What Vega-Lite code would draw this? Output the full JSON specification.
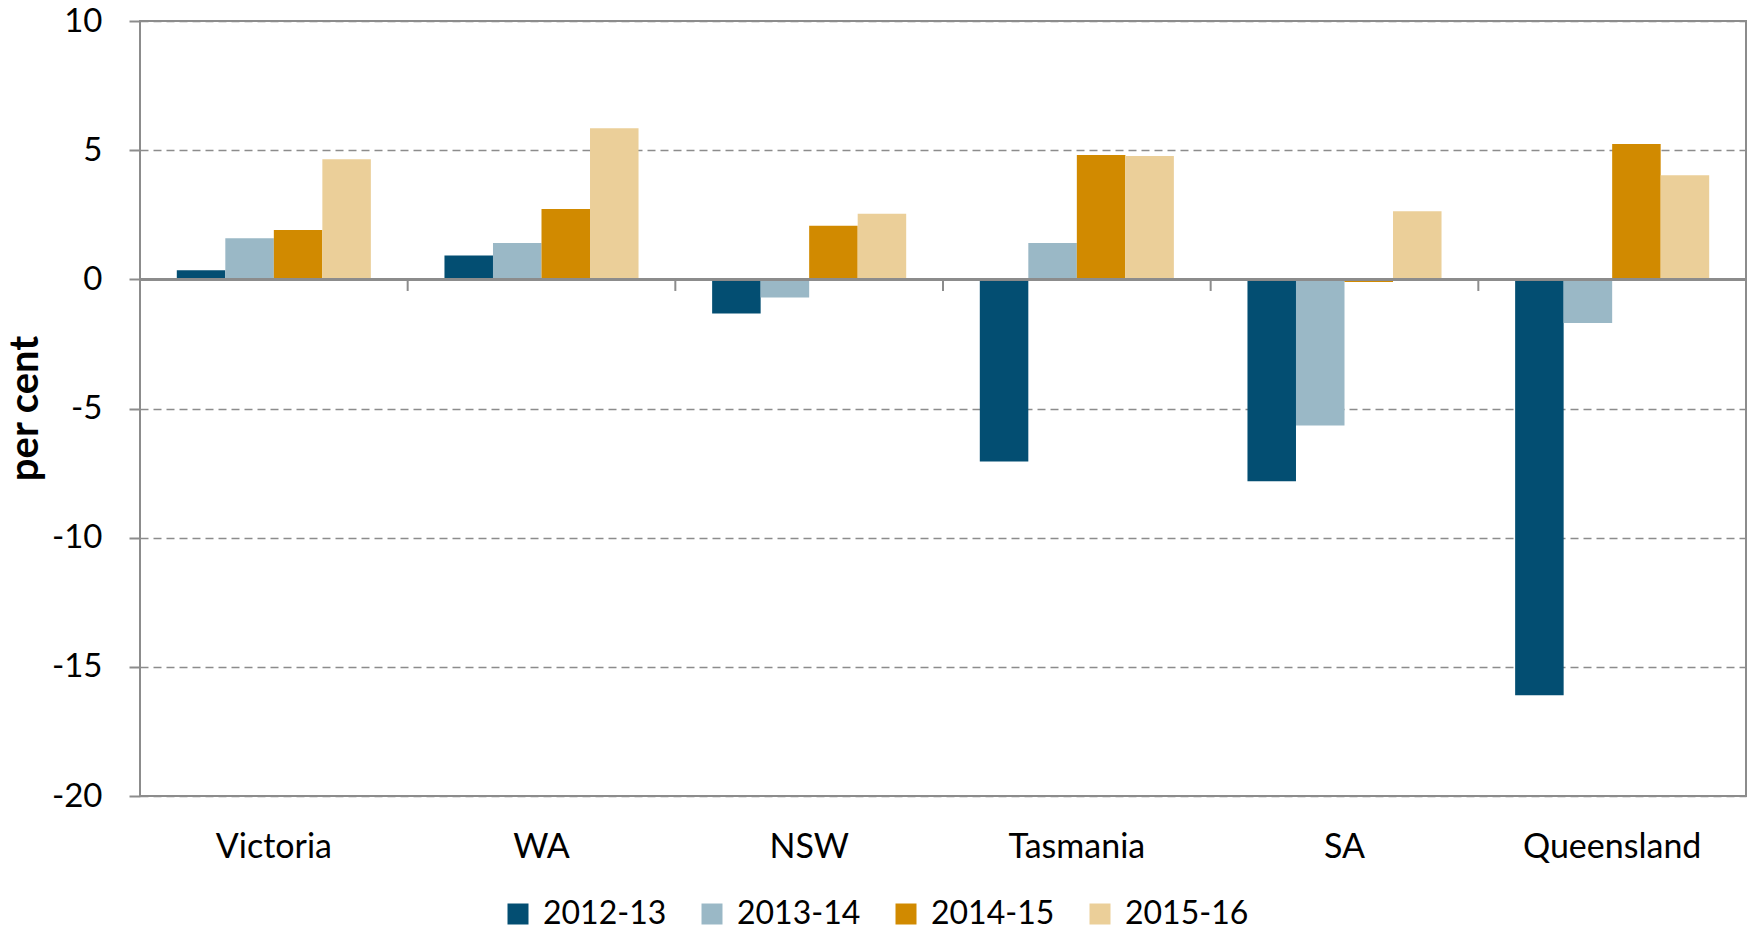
{
  "$schema": "https://vega.github.io/schema/vega-lite/v6.json",
  "width": 1606,
  "height": 775,
  "autosize": {"type": "none"},
  "padding": {"left": 140, "top": 21, "right": 6, "bottom": 135},
  "background": "white",
  "config": {
    "font": "Lato",
    "view": {"stroke": "#8c8c8c", "strokeWidth": 2},
    "axis": {"labelColor": "#000000", "labelFont": "Lato", "titleFont": "Lato"}
  },
  "data": {
    "values": [
      {"state": "Victoria", "year": "2012-13", "value": 0.35},
      {"state": "Victoria", "year": "2013-14", "value": 1.59},
      {"state": "Victoria", "year": "2014-15", "value": 1.91},
      {"state": "Victoria", "year": "2015-16", "value": 4.65},
      {"state": "WA", "year": "2012-13", "value": 0.92},
      {"state": "WA", "year": "2013-14", "value": 1.41},
      {"state": "WA", "year": "2014-15", "value": 2.72},
      {"state": "WA", "year": "2015-16", "value": 5.85},
      {"state": "NSW", "year": "2012-13", "value": -1.32},
      {"state": "NSW", "year": "2013-14", "value": -0.7},
      {"state": "NSW", "year": "2014-15", "value": 2.07},
      {"state": "NSW", "year": "2015-16", "value": 2.54},
      {"state": "Tasmania", "year": "2012-13", "value": -7.05},
      {"state": "Tasmania", "year": "2013-14", "value": 1.41},
      {"state": "Tasmania", "year": "2014-15", "value": 4.81},
      {"state": "Tasmania", "year": "2015-16", "value": 4.77},
      {"state": "SA", "year": "2012-13", "value": -7.82},
      {"state": "SA", "year": "2013-14", "value": -5.66},
      {"state": "SA", "year": "2014-15", "value": -0.1},
      {"state": "SA", "year": "2015-16", "value": 2.64},
      {"state": "Queensland", "year": "2012-13", "value": -16.1},
      {"state": "Queensland", "year": "2013-14", "value": -1.69},
      {"state": "Queensland", "year": "2014-15", "value": 5.24},
      {"state": "Queensland", "year": "2015-16", "value": 4.03}
    ]
  },
  "layer": [
    {
      "mark": {"type": "bar"},
      "encoding": {
        "x": {
          "field": "state",
          "type": "nominal",
          "sort": ["Victoria", "WA", "NSW", "Tasmania", "SA", "Queensland"],
          "scale": {"paddingInner": 0, "paddingOuter": 0},
          "axis": {
            "title": null,
            "domain": false,
            "ticks": false,
            "labelAngle": 0,
            "labelFontSize": 34,
            "labelPadding": 34
          }
        },
        "xOffset": {
          "field": "year",
          "type": "nominal",
          "scale": {"paddingInner": 0, "paddingOuter": 0.7586}
        },
        "y": {
          "field": "value",
          "type": "quantitative",
          "scale": {"domain": [-20, 10], "nice": false, "zero": false},
          "axis": {
            "title": "per cent",
            "titleFontSize": 40,
            "titleFontWeight": "bold",
            "titleColor": "#000000",
            "titleAngle": 270,
            "titleX": -115,
            "titleY": 387,
            "titleAlign": "center",
            "titleBaseline": "middle",
            "values": [-20, -15, -10, -5, 0, 5, 10],
            "labelExpr": "'' + datum.value",
            "labelFontSize": 33,
            "labelPadding": 27,
            "tickSize": 11,
            "tickColor": "#8c8c8c",
            "tickWidth": 2,
            "domain": false,
            "grid": true,
            "gridColor": "#8c8c8c",
            "gridWidth": 1.5,
            "gridDash": [8, 5]
          }
        },
        "color": {
          "field": "year",
          "type": "nominal",
          "scale": {
            "domain": ["2012-13", "2013-14", "2014-15", "2015-16"],
            "range": ["#034E72", "#9AB8C6", "#D18A00", "#EBCF99"]
          },
          "legend": {
            "title": null,
            "orient": "none",
            "legendX": 362,
            "legendY": 877,
            "direction": "horizontal",
            "symbolType": "square",
            "symbolSize": 441,
            "symbolStrokeWidth": 0,
            "labelFontSize": 32,
            "labelColor": "#000000",
            "labelOffset": 9,
            "columnPadding": 29
          }
        }
      }
    },
    {
      "mark": {"type": "rule", "color": "#8c8c8c", "strokeWidth": 2},
      "encoding": {"y": {"datum": 0}}
    },
    {
      "transform": [{"filter": "datum.year === '2012-13'"}],
      "mark": {"type": "rule", "color": "#8c8c8c", "strokeWidth": 2},
      "encoding": {
        "x": {"field": "state", "type": "nominal", "bandPosition": 0, "sort": ["Victoria", "WA", "NSW", "Tasmania", "SA", "Queensland"]},
        "y": {"datum": 0},
        "y2": {"datum": -0.45}
      }
    }
  ]
}
